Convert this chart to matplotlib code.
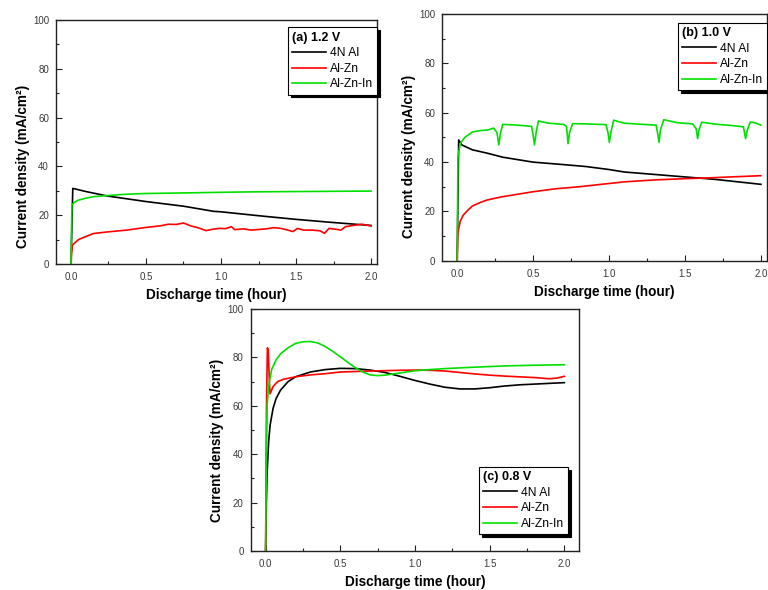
import matplotlib
matplotlib.use("Agg")
import matplotlib.pyplot as plt
from matplotlib.ticker import MultipleLocator

plt.rcParams.update({"font.family": ["Liberation Sans", "DejaVu Sans"], "font.size": 10})

LABELS = ["4N Al", "Al-Zn", "Al-Zn-In"]
COLORS = ["#000000", "#ff0000", "#00e000"]

# (a) 1.2 V
A_T_AL = [0, 0.012, 0.1, 0.24, 0.5, 0.75, 0.95, 1.0, 1.25, 1.5, 1.75, 2.0]
A_Y_AL = [0, 31.0, 29.7, 27.9, 25.6, 23.7, 21.6, 21.4, 19.8, 18.3, 17.0, 15.8]
A_T_ZN = [0, 0.005, 0.01, 0.05, 0.1, 0.15, 0.25, 0.37, 0.5, 0.59, 0.65, 0.7, 0.75, 0.8, 0.85,
          0.9, 0.95, 0.99, 1.03, 1.07, 1.09, 1.15, 1.2, 1.26, 1.3, 1.35, 1.4, 1.44, 1.48, 1.51,
          1.55, 1.61, 1.66, 1.69, 1.72, 1.76, 1.8, 1.83, 1.88, 1.94, 2.0]
A_Y_ZN = [0, 5.0, 7.8, 10.0, 11.3, 12.5, 13.2, 13.9, 15.0, 15.6, 16.3, 16.2, 16.8, 15.6, 14.8,
          13.7, 14.3, 14.6, 14.5, 15.3, 14.1, 14.4, 13.9, 14.2, 14.4, 14.9, 14.6, 14.0, 13.3, 14.6,
          13.9, 13.9, 13.6, 12.6, 14.6, 14.3, 13.9, 15.3, 15.8, 16.3, 15.6]
A_T_IN = [0, 0.006, 0.02, 0.05, 0.1, 0.15, 0.25, 0.37, 0.5, 0.82, 1.0, 1.26, 1.5, 1.75, 2.0]
A_Y_IN = [0, 24.2, 25.2, 26.2, 27.0, 27.6, 28.1, 28.6, 28.9, 29.2, 29.4, 29.6, 29.7, 29.8, 29.9]

# (b) 1.0 V
B_T_AL = [0, 0.01, 0.03, 0.1, 0.2, 0.3, 0.4, 0.5, 0.6, 0.7, 0.85, 1.0, 1.1, 1.3, 1.5, 1.7, 1.85, 2.0]
B_Y_AL = [0, 49.0, 47.0, 45.0, 43.6, 42.0, 41.0, 40.0, 39.5, 39.0, 38.2, 37.0, 36.0, 35.0, 34.0,
          33.0, 32.0, 31.0]
B_T_ZN = [0, 0.004, 0.01, 0.02, 0.04, 0.07, 0.1, 0.15, 0.2, 0.3, 0.4, 0.5, 0.65, 0.8, 0.95, 1.1,
          1.3, 1.5, 1.65, 1.8, 2.0]
B_Y_ZN = [0, 10.0, 13.0, 16.0, 18.5, 20.5, 22.2, 23.6, 24.7, 26.0, 27.0, 28.0, 29.2, 30.0, 31.0,
          32.0, 32.8, 33.3, 33.6, 34.0, 34.5]
B_T_IN = [0, 0.005, 0.02, 0.05, 0.1, 0.15, 0.2, 0.24, 0.262, 0.274, 0.286, 0.3, 0.4, 0.49, 0.5,
          0.509, 0.52, 0.535, 0.6, 0.7, 0.72, 0.73, 0.74, 0.76, 0.85, 0.98, 0.993, 1.002, 1.012,
          1.03, 1.1, 1.2, 1.31, 1.322, 1.329, 1.338, 1.36, 1.45, 1.55, 1.574, 1.583, 1.592, 1.61,
          1.7, 1.8, 1.885, 1.899, 1.91, 1.93, 1.96, 2.0]
B_Y_IN = [0, 42.0, 47.5, 50.0, 52.2, 52.8, 53.0, 53.8, 52.0, 47.0, 52.0, 55.3, 55.0, 54.5, 51.0,
          47.0, 52.0, 56.7, 55.8, 55.3, 54.5, 47.5, 52.0, 55.6, 55.5, 55.2, 52.0, 48.0, 52.0, 57.0,
          55.8, 55.4, 55.0, 51.0, 48.0, 53.0, 57.2, 56.0, 55.5, 53.5, 49.5, 53.0, 56.2, 55.4, 54.9,
          54.3, 49.5, 53.0, 56.2, 56.0, 55.0]

# (c) 0.8 V
C_T_AL = [0, 0.005, 0.01, 0.02, 0.03, 0.05, 0.07, 0.1, 0.15, 0.2, 0.3, 0.4, 0.5, 0.6, 0.7, 0.8,
          0.9, 1.0, 1.1, 1.2, 1.3, 1.4, 1.5, 1.6, 1.7, 1.8, 1.9, 2.0]
C_Y_AL = [0, 20.0, 32.0, 45.0, 52.0, 59.0, 63.0, 66.5, 70.0, 72.0, 74.0, 75.0, 75.5, 75.4, 74.8,
          73.8, 72.2, 70.5, 69.0, 67.7, 67.0, 67.0, 67.5, 68.2, 68.7, 69.0, 69.3, 69.6]
C_T_ZN = [0, 0.006, 0.012, 0.018, 0.025, 0.03, 0.05, 0.08, 0.12, 0.2, 0.3, 0.4, 0.5, 0.7, 0.9,
          1.0, 1.1, 1.2, 1.3, 1.4, 1.5, 1.6, 1.7, 1.8, 1.9, 1.95, 2.0]
C_Y_ZN = [0, 60.0, 84.0, 83.0, 70.0, 65.0, 68.0, 70.0, 71.0, 72.0, 72.8, 73.3, 74.0, 74.4, 74.7,
          74.8, 74.7, 74.4, 73.8, 73.2, 72.7, 72.3, 72.0, 71.7, 71.2, 71.5, 72.2]
C_T_IN = [0, 0.005, 0.01, 0.02, 0.04, 0.07, 0.1, 0.15, 0.2, 0.25, 0.3, 0.35, 0.4, 0.45, 0.5, 0.55,
          0.6, 0.65, 0.7, 0.75, 0.8, 0.9, 1.0, 1.1, 1.2, 1.4, 1.6, 1.8, 2.0]
C_Y_IN = [0, 40.0, 60.0, 68.0, 75.0, 79.0, 81.5, 84.0, 85.8, 86.5, 86.6, 86.0, 84.5, 82.5, 80.3,
          78.0, 75.8, 74.0, 72.8, 72.5, 72.7, 73.6, 74.5, 75.0, 75.4, 76.0, 76.5, 76.8, 77.0]

PANELS = [
    ("(a) 1.2 V", [(A_T_AL, A_Y_AL), (A_T_ZN, A_Y_ZN), (A_T_IN, A_Y_IN)]),
    ("(b) 1.0 V", [(B_T_AL, B_Y_AL), (B_T_ZN, B_Y_ZN), (B_T_IN, B_Y_IN)]),
    ("(c) 0.8 V", [(C_T_AL, C_Y_AL), (C_T_ZN, C_Y_ZN), (C_T_IN, C_Y_IN)]),
]

RECTS = [(0.0729, 0.5525, 0.418, 0.4136), (0.5755, 0.558, 0.4232, 0.418),
         (0.3264, 0.0661, 0.4279, 0.410)]
XMAX = [2.04, 2.04, 2.1]
YLAB_Y = [0.40, 0.425, 0.455]
LEG = [("upper right", (1.0, 0.97)), ("upper right", (1.0, 0.965)),
       ("lower right", (0.966, 0.07))]

fig = plt.figure(figsize=(7.68, 5.9), dpi=100)
for i, (title, series) in enumerate(PANELS):
    ax = fig.add_axes(RECTS[i])
    for (t, y), c, lb in zip(series, COLORS, LABELS):
        ax.plot(t, y, color=c, lw=1.2, label=lb)
    ax.set_xlim(-0.1, XMAX[i]); ax.set_ylim(0, 100)
    ax.xaxis.set_major_locator(MultipleLocator(0.5)); ax.xaxis.set_minor_locator(MultipleLocator(0.25))
    ax.yaxis.set_major_locator(MultipleLocator(20)); ax.yaxis.set_minor_locator(MultipleLocator(10))
    ax.xaxis.set_major_formatter(lambda v, p: f"{v:.1f}")
    ax.tick_params(which="both", direction="in", top=False, right=False, colors="#222222",
                   labelsize=7, labelcolor="#3a3a3a")
    ax.tick_params(which="major", length=4, width=0.8)
    ax.tick_params(which="minor", length=2.5, width=0.8)
    ax.tick_params(axis="x", pad=6)
    ax.tick_params(axis="y", pad=5)
    for s in ax.spines.values():
        s.set_linewidth(1.0); s.set_color("#222222")
    ax.set_xlabel("Discharge time (hour)", fontweight="bold", fontsize=9.8, labelpad=4)
    ax.set_ylabel("Current density (mA/cm²)", fontweight="bold", fontsize=9.8, labelpad=4)
    ax.yaxis.set_label_coords(-0.08, YLAB_Y[i])
    loc, anchor = LEG[i]
    leg = ax.legend(loc=loc, bbox_to_anchor=anchor, borderaxespad=0, title=title,
                    alignment="left", title_fontproperties={"weight": "bold", "size": 9},
                    fontsize=8.7, fancybox=False, edgecolor="black", framealpha=1,
                    shadow={"color": "black", "alpha": 1}, handlelength=2.8,
                    handletextpad=0.3, labelspacing=0.3, borderpad=0.35)
    leg.get_frame().set_linewidth(0.8)

fig.savefig("out.png", dpi=100, facecolor="white")
